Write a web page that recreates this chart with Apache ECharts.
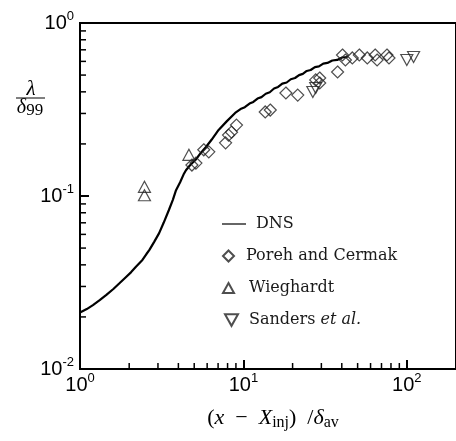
<!DOCTYPE html>
<html>
<head>
    <meta charset="utf-8">
    <script src="https://cdn.jsdelivr.net/npm/echarts@6/dist/echarts.min.js"></script>
    <style>
        body{
            margin:0;
            padding:0;
            background:#fff;
        }
    </style>
</head>
<body>
<div id="main" style="width:456px;height:441px;"></div>
<script type="text/javascript">
var myChart = echarts.init(document.getElementById('main'));

// DNS curve
let dnsX = [1.0, 1.1, 1.2, 1.32, 1.45, 1.6, 1.75, 1.9, 2.05, 2.2, 2.41, 2.55, 2.66, 2.85, 3.05, 3.25, 3.5, 3.7, 3.87, 4.1, 4.3, 4.45, 4.7, 5.1, 5.5, 5.9, 6.4, 7.05, 7.9, 8.9, 9.6, 10.2, 10.9, 11.5, 12.2, 12.9, 13.7, 14.5, 15.4, 16.3, 17.3, 18.4, 19.5, 20.7, 21.9, 23.1, 24.4, 25.8, 27.4, 29.0, 30.8, 32.7, 35.0, 37.5, 40.2, 43.3];
let dnsY = [0.0212, 0.0222, 0.0234, 0.025, 0.0268, 0.029, 0.0314, 0.0338, 0.0362, 0.039, 0.0427, 0.0462, 0.0488, 0.0545, 0.061, 0.07, 0.083, 0.095, 0.108, 0.12, 0.133, 0.141, 0.15, 0.162, 0.178, 0.192, 0.212, 0.241, 0.27, 0.302, 0.318, 0.326, 0.342, 0.35, 0.366, 0.373, 0.39, 0.398, 0.418, 0.427, 0.446, 0.453, 0.473, 0.481, 0.5, 0.508, 0.528, 0.535, 0.556, 0.561, 0.583, 0.588, 0.607, 0.612, 0.632, 0.636];

// Poreh and Cermak (diamonds)
let porehX = [4.84, 5.12, 5.72, 6.14, 7.78, 8.11, 8.46, 9.07, 13.6, 14.6, 18.2, 21.5, 27.7, 29.3, 29.3, 37.7, 40.4, 42.1, 46.4, 51.2, 57.3, 64.0, 65.8, 75.6, 77.8];
let porehY = [0.151, 0.155, 0.185, 0.18, 0.203, 0.225, 0.234, 0.257, 0.306, 0.314, 0.394, 0.383, 0.469, 0.45, 0.481, 0.521, 0.653, 0.611, 0.628, 0.653, 0.628, 0.653, 0.611, 0.653, 0.628];

// Wieghardt (up triangles)
let wieghardtX = [2.48, 2.48, 4.64];
let wieghardtY = [0.113, 0.101, 0.173];

// Sanders et al. (down triangles)
let sandersX = [26.6, 27.7, 100, 110];
let sandersY = [0.399, 0.421, 0.611, 0.636];

let xMinorTicks = [2, 3, 4, 5, 6, 7, 8, 9, 20, 30, 40, 50, 60, 70, 80, 90];
let yMinorTicks = [0.02, 0.03, 0.04, 0.05, 0.06, 0.07, 0.08, 0.09, 0.2, 0.3, 0.4, 0.5, 0.6, 0.7, 0.8, 0.9];

function zip(a, b) {
  return a.map(function (v, i) { return [v, b[i]]; });
}

var serif = 'Liberation Serif';
var legendFont = 'DejaVu Serif';
var sans = 'Liberation Sans';
var diamond = 'path://M5,0 L10,5 L5,10 L0,5 Z';
var triUp = 'path://M5,0 L10,9 L0,9 Z';
var triDown = 'path://M0,0 L10,0 L5,9 Z';
var hollow = { color: 'rgba(255,255,255,0)', borderColor: '#222', borderWidth: 1.2 };

function powLabel(v) {
  var l = Math.log10(v);
  var e = Math.round(l);
  if (Math.abs(l - e) > 1e-6) return '';
  return '{b|10}{s|' + e + '}';
}
var powRich = {
  b: { fontFamily: sans, fontSize: 20, lineHeight: 26, color: '#000', verticalAlign: 'middle' },
  s: { fontFamily: sans, fontSize: 13, lineHeight: 13, color: '#000', verticalAlign: 'top' }
};

function legendItem(name, left, top, w, h, pad) {
  return {
    data: [name],
    left: left,
    top: top,
    padding: 0,
    itemWidth: w,
    itemHeight: h,
    selectedMode: false,
    textStyle: {
      fontFamily: legendFont,
      fontSize: 16,
      color: '#1a1a1a',
      padding: [0, 0, 0, pad],
      rich: {
        r: { fontFamily: legendFont, fontSize: 16, color: '#1a1a1a' },
        i: { fontFamily: legendFont, fontSize: 16, fontStyle: 'italic', color: '#1a1a1a' }
      }
    },
    formatter: function (n) {
      return n === 'Sanders et al.' ? '{r|Sanders }{i|et al.}' : n;
    }
  };
}

option = {
  animation: false,
  backgroundColor: '#fff',
  grid: {
    show: true,
    left: 80,
    top: 23,
    width: 380,
    height: 346,
    borderColor: '#000',
    borderWidth: 2,
    backgroundColor: 'rgba(0,0,0,0)'
  },
  legend: [
    legendItem('DNS', 222, 216, 24, 14, 5),
    legendItem('Poreh and Cermak', 222, 248, 11, 11, 7),
    legendItem('Wieghardt', 222, 280, 11, 11, 10),
    legendItem('Sanders et al.', 224, 312, 13, 13, 6)
  ],
  xAxis: {
    type: 'log',
    logBase: 10,
    min: 1,
    max: 200,
    splitLine: { show: false },
    axisLine: { lineStyle: { color: '#000', width: 2 } },
    axisTick: { inside: true, length: 9, lineStyle: { color: '#000', width: 2 } },
    axisLabel: { margin: 3, showMaxLabel: false, formatter: powLabel, rich: powRich },
    name: '{p|(}{i|x}{p|  −  }{i|X}{s|inj}{p|)  /}{i|δ}{s|av}',
    nameLocation: 'middle',
    nameGap: 36,
    nameTextStyle: {
      padding: [0, 0, 0, 10],
      rich: {
        p: { fontFamily: serif, fontSize: 22, lineHeight: 26, color: '#000', verticalAlign: 'middle' },
        i: { fontFamily: serif, fontSize: 22, lineHeight: 26, fontStyle: 'italic', color: '#000', verticalAlign: 'middle' },
        s: { fontFamily: serif, fontSize: 16, lineHeight: 16, color: '#000', verticalAlign: 'bottom' }
      }
    }
  },
  yAxis: {
    type: 'log',
    logBase: 10,
    min: 0.01,
    max: 1,
    splitLine: { show: false },
    axisLine: { lineStyle: { color: '#000', width: 2 } },
    axisTick: { inside: true, length: 9, lineStyle: { color: '#000', width: 2 } },
    axisLabel: { margin: 6, formatter: powLabel, rich: powRich }
  },
  graphic: [
    { type: 'text', x: 31, y: 89, style: { text: 'λ', font: 'italic 21px Liberation Serif', fill: '#000', align: 'center', verticalAlign: 'middle' } },
    { type: 'line', shape: { x1: 16, y1: 98, x2: 45, y2: 98 }, style: { stroke: '#000', lineWidth: 1 } },
    { type: 'text', x: 30, y: 108, style: {
        text: '{d|δ}{n|99}', align: 'center', verticalAlign: 'middle',
        rich: {
          d: { fontFamily: serif, fontSize: 20, lineHeight: 22, fontStyle: 'italic', fill: '#000', verticalAlign: 'middle' },
          n: { fontFamily: serif, fontSize: 17, lineHeight: 17, fill: '#000', verticalAlign: 'bottom' }
        }
      } }
  ],
  series: [
    {
      name: 'DNS',
      type: 'line',
      data: zip(dnsX, dnsY),
      symbol: 'none',
      lineStyle: { color: '#000', width: 2.2 },
      itemStyle: { color: '#000' },
      z: 3
    },
    {
      name: 'Poreh and Cermak',
      type: 'scatter',
      data: zip(porehX, porehY),
      symbol: diamond,
      symbolSize: 12,
      itemStyle: hollow,
      z: 4
    },
    {
      name: 'Wieghardt',
      type: 'scatter',
      data: zip(wieghardtX, wieghardtY),
      symbol: triUp,
      symbolSize: [12, 11],
      itemStyle: hollow,
      z: 4
    },
    {
      name: 'Sanders et al.',
      type: 'scatter',
      data: zip(sandersX, sandersY),
      symbol: triDown,
      symbolSize: [12, 11],
      itemStyle: hollow,
      z: 4
    }
  ]
};
// line-only legend icon for the DNS curve
option.legend[0].data = [{ name: 'DNS', icon: 'path://M0,0 L24,0 L24,1.2 L0,1.2 Z' }];
myChart.setOption(option);

// minor ticks (2..9 per decade), placed through the chart's own log scales
var minor = [];
xMinorTicks.forEach(function (v) {
  var p = myChart.convertToPixel({ gridIndex: 0 }, [v, 0.01]);
  minor.push({ type: 'line', z: 10, shape: { x1: p[0], y1: p[1], x2: p[0], y2: p[1] - 6 }, style: { stroke: '#000', lineWidth: 1.5 } });
});
yMinorTicks.forEach(function (v) {
  var p = myChart.convertToPixel({ gridIndex: 0 }, [1, v]);
  minor.push({ type: 'line', z: 10, shape: { x1: p[0], y1: p[1], x2: p[0] + 6, y2: p[1] }, style: { stroke: '#000', lineWidth: 1.5 } });
});
myChart.setOption({ graphic: option.graphic.concat(minor) });
</script>
</body>
</html>
